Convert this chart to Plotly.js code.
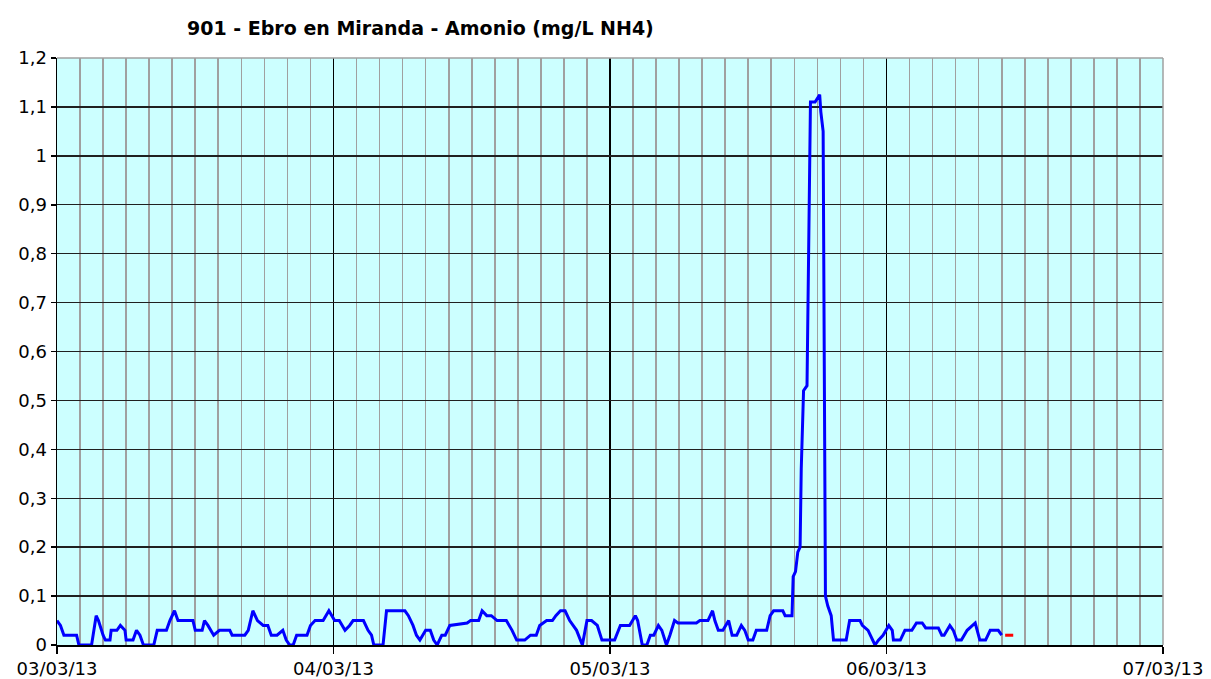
<!DOCTYPE html>
<html>
<head>
<meta charset="utf-8">
<script src="https://cdn.plot.ly/plotly-3.0.1.min.js"></script>
<style>
  html, body { margin: 0; padding: 0; background: #ffffff; }
  #chart { width: 1211px; height: 679px; }
</style>
</head>
<body>
<div id="chart"></div>
<script>
// Hours elapsed since 03/03/13 00:00 for each reading
const startDate = '2013-03-03T00:00:00Z';
const sampleHours = [
  0.0, 0.3, 0.6, 1.7, 1.9, 3.0, 3.4, 3.6, 4.0, 4.2, 4.6, 4.7, 5.2, 5.5, 5.9, 6.0, 6.6, 6.9, 7.2, 7.5,
  8.4, 8.7, 9.5, 9.8, 10.2, 10.5, 11.8, 12.0, 12.6, 12.8, 13.1, 13.6, 14.1, 15.0, 15.2, 16.3, 16.6, 17.0, 17.4, 17.9,
  18.3, 18.6, 19.1, 19.6, 19.9, 20.2, 20.5, 20.8, 21.7, 22.0, 22.4, 23.1, 23.6, 24.1, 24.5, 25.0, 25.4, 25.7, 26.6, 27.0,
  27.3, 27.5, 28.3, 28.6, 30.2, 30.5, 30.9, 31.2, 31.5, 32.0, 32.4, 32.7, 33.0, 33.4, 33.7, 34.1, 35.6, 35.9, 36.6, 36.9,
  37.3, 37.7, 38.2, 39.0, 39.5, 39.9, 40.6, 41.1, 41.6, 41.9, 42.5, 43.0, 43.3, 43.7, 44.1, 44.5, 45.1, 45.6, 46.0, 46.4,
  46.9, 47.3, 48.4, 48.9, 49.7, 50.2, 50.4, 50.8, 51.2, 51.5, 51.8, 52.2, 52.5, 52.9, 53.2, 53.6, 53.9, 55.5, 55.8, 56.5,
  56.9, 57.1, 57.4, 57.8, 58.3, 58.6, 59.0, 59.4, 59.7, 60.0, 60.4, 60.7, 61.6, 61.9, 62.2, 63.0, 63.2, 63.8, 63.9, 64.1,
  64.3, 64.5, 64.6, 64.8, 65.1, 65.2, 65.3, 65.4, 65.8, 66.1, 66.2, 66.3, 66.5, 66.6, 66.7, 66.9, 67.2, 67.4, 68.5, 68.8,
  69.7, 69.9, 70.4, 71.0, 71.3, 71.7, 72.2, 72.5, 72.6, 73.2, 73.6, 74.2, 74.6, 75.1, 75.4, 76.5, 76.8, 77.0, 77.5, 77.8,
  78.1, 78.5, 79.0, 79.7, 80.1, 80.6, 81.0, 81.7, 82.0
];
// Ammonium (mg/L NH4)
const ammonium = [
  0.05, 0.04, 0.02, 0.02, 0.00, 0.00, 0.06, 0.05, 0.02, 0.01, 0.01, 0.03, 0.03, 0.04, 0.03, 0.01, 0.01, 0.03, 0.02, 0.00,
  0.00, 0.03, 0.03, 0.05, 0.07, 0.05, 0.05, 0.03, 0.03, 0.05, 0.04, 0.02, 0.03, 0.03, 0.02, 0.02, 0.03, 0.07, 0.05, 0.04,
  0.04, 0.02, 0.02, 0.03, 0.01, 0.00, 0.00, 0.02, 0.02, 0.04, 0.05, 0.05, 0.07, 0.05, 0.05, 0.03, 0.04, 0.05, 0.05, 0.03,
  0.02, 0.00, 0.00, 0.07, 0.07, 0.06, 0.04, 0.02, 0.01, 0.03, 0.03, 0.01, 0.00, 0.02, 0.02, 0.04, 0.045, 0.05, 0.05, 0.07,
  0.06, 0.06, 0.05, 0.05, 0.03, 0.01, 0.01, 0.02, 0.02, 0.04, 0.05, 0.05, 0.06, 0.07, 0.07, 0.05, 0.03, 0.00, 0.05, 0.05,
  0.04, 0.01, 0.01, 0.04, 0.04, 0.06, 0.05, 0.00, 0.00, 0.02, 0.02, 0.04, 0.03, 0.00, 0.02, 0.05, 0.045, 0.045, 0.05, 0.05,
  0.07, 0.05, 0.03, 0.03, 0.05, 0.02, 0.02, 0.04, 0.03, 0.01, 0.01, 0.03, 0.03, 0.06, 0.07, 0.07, 0.06, 0.06, 0.14, 0.15,
  0.19, 0.20, 0.36, 0.52, 0.53, 0.75, 0.93, 1.11, 1.11, 1.12, 1.125, 1.09, 1.05, 0.57, 0.10, 0.08, 0.06, 0.01, 0.01, 0.05,
  0.05, 0.04, 0.03, 0.00, 0.01, 0.02, 0.04, 0.03, 0.01, 0.01, 0.03, 0.03, 0.045, 0.045, 0.035, 0.035, 0.02, 0.02, 0.04, 0.03,
  0.01, 0.01, 0.03, 0.045, 0.01, 0.01, 0.03, 0.03, 0.02
];
// Last readings drawn in red
const redHours = [82.3, 83.0];
const redValues = [0.02, 0.02];

const xRange = ['2013-03-03 00:00', '2013-03-07 00:00'];
const yTickVals = [0, 0.1, 0.2, 0.3, 0.4, 0.5, 0.6, 0.7, 0.8, 0.9, 1, 1.1, 1.2];
const titleText = '901 - Ebro en Miranda - Amonio (mg/L NH4)';

const t0 = Date.parse(startDate);
function toDate(h) {
  const d = new Date(t0 + h * 3600000);
  const p = n => String(n).padStart(2, '0');
  return d.getUTCFullYear() + '-' + p(d.getUTCMonth() + 1) + '-' + p(d.getUTCDate()) + ' ' +
         p(d.getUTCHours()) + ':' + p(d.getUTCMinutes()) + ':' + p(d.getUTCSeconds());
}

const FONT = 'DejaVu Sans, Verdana, sans-serif';

const traces = [
  {
    x: sampleHours.map(toDate), y: ammonium, type: 'scatter', mode: 'lines',
    line: { color: '#0000FF', width: 3 }, hoverinfo: 'x+y'
  },
  {
    x: redHours.map(toDate), y: redValues, type: 'scatter', mode: 'lines',
    line: { color: '#FF0000', width: 3 }
  }
];

const layout = {
  width: 1211, height: 679,
  margin: { l: 57, r: 48, t: 58, b: 34, pad: 0 },
  paper_bgcolor: '#ffffff',
  plot_bgcolor: '#CCFFFF',
  separators: ',.',
  showlegend: false,
  font: { family: FONT, size: 18, color: '#000000' },
  title: {
    text: '<b>' + titleText + '</b>',
    font: { family: FONT, size: 19, color: '#000000' },
    x: 187 / 1211, xanchor: 'left', xref: 'container',
    y: 1 - 28 / 679, yanchor: 'middle', yref: 'container'
  },
  xaxis: {
    type: 'date',
    range: xRange,
    tick0: '2013-03-03',
    dtick: 86400000,
    tickformat: '%d/%m/%y',
    showgrid: true, gridcolor: '#000000', gridwidth: 1.2,
    minor: { dtick: 7200000, tick0: '2013-03-03', showgrid: true, gridcolor: '#A0A0A0', gridwidth: 1.6 },
    showline: true, linecolor: '#000000', linewidth: 1.5,
    ticks: 'outside', ticklen: 7, tickcolor: '#000000', tickwidth: 1.5,
    tickfont: { family: FONT, size: 18, color: '#000000' },
    zeroline: false, fixedrange: true
  },
  yaxis: {
    range: [0, 1.2],
    tickvals: yTickVals,
    showgrid: true, gridcolor: '#202020', gridwidth: 1.4,
    showline: true, linecolor: '#000000', linewidth: 1.5,
    ticks: 'outside', ticklen: 5, tickcolor: '#000000', tickwidth: 1.5,
    tickfont: { family: FONT, size: 18, color: '#000000' },
    zeroline: false, fixedrange: true
  },
  shapes: [
    { type: 'line', xref: 'paper', yref: 'paper', x0: 0, x1: 1, y0: 1, y1: 1,
      line: { color: '#A0A0A0', width: 1.5 }, layer: 'above' },
    { type: 'line', xref: 'paper', yref: 'paper', x0: 1, x1: 1, y0: 0, y1: 1,
      line: { color: '#A0A0A0', width: 1.5 }, layer: 'above' }
  ]
};

Plotly.newPlot('chart', traces, layout, { displayModeBar: false, staticPlot: true });
</script>
</body>
</html>
